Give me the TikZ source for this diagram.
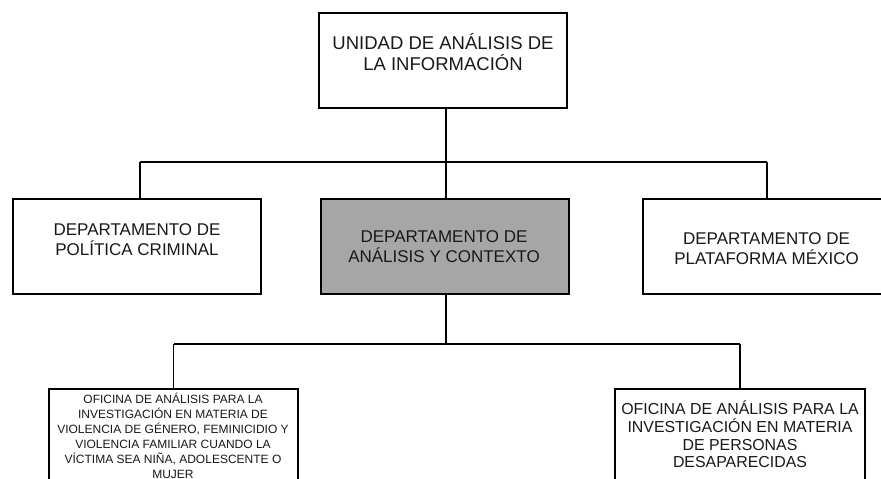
\documentclass[tikz,border=0pt]{standalone}
\usepackage{fontspec}
\setmainfont{Liberation Sans}
\definecolor{boxgray}{HTML}{A6A6A6}
\begin{document}
\begin{tikzpicture}[x=1pt,y=-1pt,
  orgbox/.style={draw=black, line width=2pt, fill=white, rectangle, inner sep=0pt},
  link/.style={draw=black, line width=1.7pt},
  txt/.style={anchor=north, inner sep=0pt, align=center, text=black!90}]
\useasboundingbox (0,0) rectangle (881,479);
\clip (0,0) rectangle (881,479);
% boxes
\node[orgbox, minimum width=248pt, minimum height=95pt] (top) at (443,60.5) {};
\node[orgbox, minimum width=248pt, minimum height=95pt] (left) at (137,246.5) {};
\node[orgbox, fill=boxgray, minimum width=248pt, minimum height=95pt] (mid) at (445,246.5) {};
\node[orgbox, minimum width=248pt, minimum height=95pt] (right) at (767,246.5) {};
\node[orgbox, minimum width=249pt, minimum height=130pt] (bl) at (173.5,454) {};
\node[orgbox, minimum width=250pt, minimum height=130pt] (br) at (740,454) {};
% texts
\node[txt, font=\fontsize{18.5}{21}\selectfont] (ttop) at (443,31.1)
  {\rule{0pt}{1em}UNIDAD DE ANÁLISIS DE\\LA INFORMACIÓN};
\node[txt, font=\fontsize{17}{20}\selectfont] (tleft) at (137,218.1)
  {\rule{0pt}{1em}DEPARTAMENTO DE\\POLÍTICA CRIMINAL};
\node[txt, font=\fontsize{17}{20.5}\selectfont] (tmid) at (444,225.1)
  {\rule{0pt}{1em}DEPARTAMENTO DE\\ANÁLISIS Y CONTEXTO};
\node[txt, font=\fontsize{17}{20}\selectfont] (tright) at (766.5,227.1)
  {\rule{0pt}{1em}DEPARTAMENTO DE\\PLATAFORMA MÉXICO};
\node[txt, font=\fontsize{12}{15}\selectfont] (tbl) at (173,391.3)
  {\rule{0pt}{1em}OFICINA DE ANÁLISIS PARA LA\\INVESTIGACIÓN EN MATERIA DE\\VIOLENCIA DE GÉNERO, FEMINICIDIO Y\\VIOLENCIA FAMILIAR CUANDO LA\\VÍCTIMA SEA NIÑA, ADOLESCENTE O\\MUJER};
\node[txt, font=\fontsize{15.9}{17.6}\selectfont] (tbr) at (740,398.8)
  {\rule{0pt}{1em}OFICINA DE ANÁLISIS PARA LA\\INVESTIGACIÓN EN MATERIA\\DE PERSONAS\\DESAPARECIDAS};
% connector junctions
\coordinate (j1) at (446,162);
\coordinate (j2) at (446,344);
\draw[link] (top.south -| j1) -- (j1);
\draw[link] (j1 -| left.north) ++(3,0) coordinate (jl) -- (j1);
\draw[link] (jl) -- (jl |- left.north);
\draw[link] (j1) -- (j1 -| right.north);
\draw[link] (j1 -| right.north) -- (right.north);
\draw[link] (j1) -- (mid.north -| j1);
\draw[link] (mid.south -| j1) -- (j2);
\draw[link] (j2) -- (j2 -| bl.north);
\draw[link] (j2 -| bl.north) -- (bl.north);
\draw[link] (j2) -- (j2 -| br.north) ++(1,0);
\draw[link] (j2 -| br.north) -- (br.north);
\end{tikzpicture}
\end{document}
